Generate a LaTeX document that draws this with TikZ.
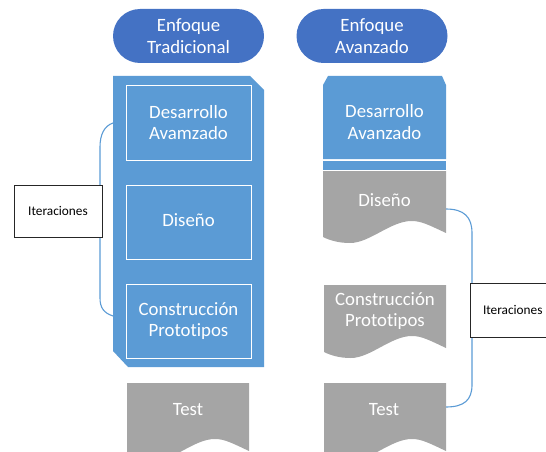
\documentclass[tikz,border=0pt]{standalone}
\usepackage{fontspec}
\setmainfont{Carlito}[Ligatures=NoCommon]
\begin{document}
\begin{tikzpicture}[x=1pt,y=-1pt,
  pillbox/.style={fill=hdrblue, rounded corners=27pt, minimum width=151pt,
    minimum height=54pt, inner sep=0pt, text=white, align=center,
    font=\fontsize{18.8}{21.5}\selectfont},
  innerbox/.style={draw=white, line width=0.9pt, minimum width=125pt,
    inner sep=0pt, text=white, align=center, font=\fontsize{18.8}{21.5}\selectfont},
  lbl/.style={text=white, align=center, inner sep=0pt, font=\fontsize{18.8}{21.5}\selectfont},
  iterbox/.style={draw=black!85, fill=white, line width=1pt, inner sep=0pt,
    font=\fontsize{13.3}{15}\selectfont},
  bracket/.style={draw=panelblue, line width=1.1pt}
]
\definecolor{hdrblue}{HTML}{4472C4}
\definecolor{panelblue}{HTML}{5B9BD5}
\definecolor{docgray}{HTML}{A5A5A5}
\useasboundingbox (0,0) rectangle (546,452);

% gray document shape with a wavy lower edge: x0, top, x1, left bottom
\newcommand\wavedoc[4]{%
  \fill[docgray] (#1,#2) -- (#3,#2) -- (#3,#4-4)
    .. controls ({#1+0.86*(#3-#1)},#4-12) and ({#1+0.8*(#3-#1)},#4-16) .. ({#1+0.72*(#3-#1)},#4-16)
    .. controls ({#1+0.55*(#3-#1)},#4-16) and ({#1+0.38*(#3-#1)},#4+6) .. ({#1+0.22*(#3-#1)},#4+6)
    .. controls ({#1+0.12*(#3-#1)},#4+6) and ({#1+0.05*(#3-#1)},#4+3) .. (#1,#4) -- cycle;}

% bracket end points
\coordinate (lbTop) at (113,123);
\coordinate (lbBot) at (113,316);
\coordinate (rbTop) at (446,209);
\coordinate (rbBot) at (446,407);

% iteration brackets
\draw[bracket] (lbTop) .. controls (104,126) and (100,135) .. (100,147)
  -- (100,298) .. controls (100,308) and (104,313) .. (lbBot);
\draw[bracket] (rbTop) .. controls (464,209) and (472,217) .. (472,233)
  -- (472,385) .. controls (472,400) and (464,407) .. (rbBot);

% headers
\node[pillbox] (hdrT) at (188.5,36) {Enfoque\\Tradicional};
\node[pillbox] (hdrA) at (372,36) {Enfoque\\Avanzado};

% traditional approach: one panel holding three stages
\fill[panelblue] (113,76) -- (250,76) -- (264,90) -- (264,367) -- (128,367) -- (113,351) -- cycle;
\node[innerbox, minimum height=75pt] (desT) at (188.5,122.5) {Desarrollo\\Avamzado};
\node[innerbox, minimum height=74pt] (disT) at (188.5,222) {\raisebox{3pt}{Diseño}};
\node[innerbox, minimum height=74pt] (conT) at (188.5,321) {Construcción\\Prototipos};
\wavedoc{127}{383}{249}{455}
\node[lbl] (testT) at (188,410) {Test};

% advanced approach
\fill[panelblue] (323,85) -- (328,76) -- (442,76) -- (446,85) -- (446,159) -- (323,159) -- cycle;
\fill[panelblue] (323,160.5) rectangle (446,170);
\node[lbl] (desA) at (384.5,122) {Desarrollo\\Avanzado};
\wavedoc{323}{171}{446}{237}
\node[lbl] (disA) at (384.5,200) {Diseño};
\wavedoc{324}{285}{446}{352}
\node[lbl] (conA) at (385,311) {Construcción\\Prototipos};
\wavedoc{324}{383}{446}{455}
\node[lbl] (testA) at (384,410) {Test};

% iteration labels
\node[iterbox, minimum width=88pt, minimum height=52pt] (iterT) at (58,211) {Iteraciones};
\node[iterbox, minimum width=88pt, minimum height=54pt, text width=62pt] (iterA) at (514,310) {Iteraciones};
\end{tikzpicture}
\end{document}
